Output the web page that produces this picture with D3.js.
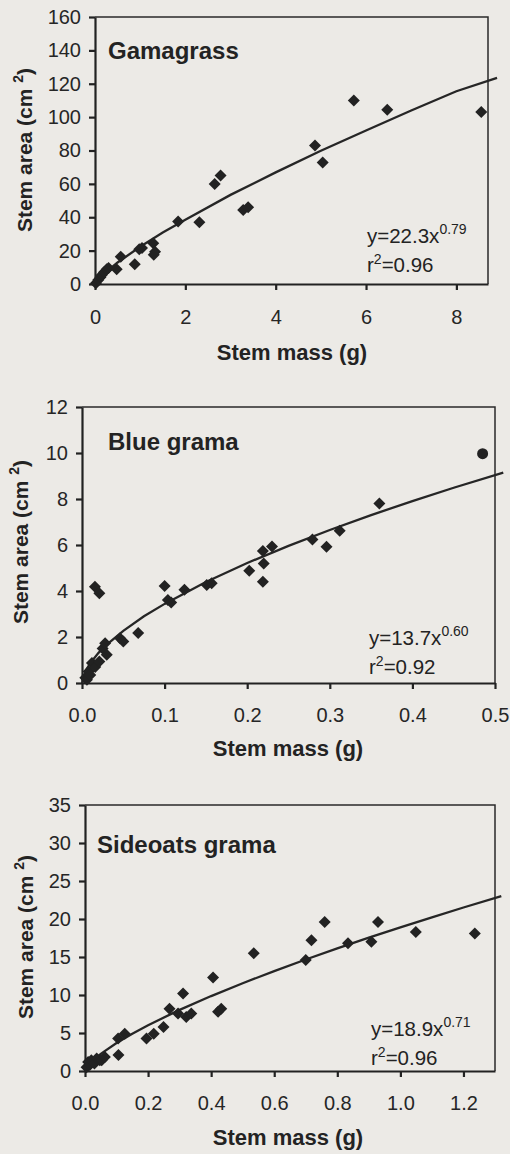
<!DOCTYPE html>
<html>
<head>
<meta charset="utf-8">
<script src="https://cdnjs.cloudflare.com/ajax/libs/d3/7.8.5/d3.min.js"></script>
<style>
body { margin: 0; background: #eceae6; }
svg { display: block; }
text { font-family: "Liberation Sans", Arial, sans-serif; fill: #232323; }
.frame { stroke: #2a2a2a; stroke-width: 1.5; fill: none; }
.fit { stroke: #262626; stroke-width: 2.3; fill: none; }
.pt { fill: #222; }
.axis path, .axis line { stroke: #222; stroke-width: 2.2; }
.axis text { font-size: 20px; fill: #262626; }
</style>
</head>
<body>
<div id="canvas-container"></div>
<script>
// Gamagrass (stem mass g, stem area cm2)
var gamaMass = [0.02, 0.07, 0.12, 0.15, 0.2, 0.26, 0.3, 0.48, 0.57, 0.88, 0.98, 1.04, 1.29, 1.33, 1.3,
    1.84, 2.31, 2.65, 2.78, 3.28, 3.39, 4.87, 5.04, 5.73, 6.47, 8.55];
var gamaArea = [0.5, 2.4, 4, 5.4, 7, 8.8, 9.6, 8.8, 16.4, 11.8, 20.8, 21.6, 24.4, 19.4, 17.5,
    37.4, 37, 60, 65, 44.4, 46, 83, 72.8, 110, 104.4, 103];
var gamaFitMass = [0, 0.1, 0.25, 0.5, 1, 1.5, 2, 3, 4, 5, 6, 7, 8, 8.9];
var gamaFitArea = [0, 3.6, 7.3, 12.9, 22.3, 30.8, 38.5, 53.4, 66.9, 79.8, 92, 104, 115.5, 123.5];
var gamaXTicks = [0, 2, 4, 6, 8];
var gamaYTicks = [0, 20, 40, 60, 80, 100, 120, 140, 160];

// Blue grama
var blueMass = [0.004, 0.006, 0.008, 0.01, 0.012, 0.016, 0.021, 0.0157, 0.021, 0.025, 0.028, 0.03,
    0.046, 0.05, 0.068, 0.1, 0.104, 0.108, 0.124, 0.151, 0.157, 0.2025, 0.219, 0.22, 0.219, 0.23,
    0.279, 0.296, 0.312, 0.36];
var blueArea = [0.23, 0.14, 0.5, 0.35, 0.87, 0.7, 0.94, 4.19, 3.9, 1.5, 1.73, 1.23,
    1.95, 1.8, 2.17, 4.22, 3.61, 3.5, 4.05, 4.26, 4.34, 4.88, 5.74, 5.2, 4.4, 5.93,
    6.24, 5.92, 6.62, 7.8];
var blueOutMass = [0.485];
var blueOutArea = [9.97];
var blueFitMass = [0, 0.005, 0.01, 0.02, 0.03, 0.05, 0.075, 0.1, 0.15, 0.2, 0.25, 0.3, 0.35, 0.4, 0.45, 0.51];
var blueFitArea = [0, 0.57, 0.86, 1.31, 1.67, 2.27, 2.9, 3.44, 4.39, 5.22, 5.96, 6.65, 7.3, 7.91, 8.49, 9.15];
var blueXTicks = [0, 0.1, 0.2, 0.3, 0.4, 0.5];
var blueYTicks = [0, 2, 4, 6, 8, 10, 12];

// Sideoats grama
var sideMass = [0.005, 0.01, 0.015, 0.02, 0.03, 0.037, 0.047, 0.053, 0.063, 0.106, 0.105, 0.126,
    0.195, 0.218, 0.249, 0.268, 0.295, 0.311, 0.321, 0.337, 0.406, 0.422, 0.432, 0.535,
    0.7, 0.718, 0.76, 0.834, 0.908, 0.929, 1.049, 1.236];
var sideArea = [0.5, 1.2, 0.8, 1.4, 1.0, 1.63, 1.4, 1.4, 1.85, 2.1, 4.26, 4.9,
    4.26, 4.9, 5.8, 8.2, 7.55, 10.2, 7.1, 7.55, 12.3, 7.8, 8.2, 15.5,
    14.6, 17.2, 19.6, 16.8, 17.0, 19.6, 18.3, 18.1];
var sideFitMass = [0, 0.01, 0.03, 0.05, 0.1, 0.15, 0.2, 0.3, 0.4, 0.5, 0.6, 0.7, 0.8, 0.9, 1.0, 1.1, 1.2, 1.32];
var sideFitArea = [0, 0.72, 1.57, 2.25, 3.69, 4.91, 6.03, 8.04, 9.86, 11.55, 13.15, 14.67, 16.13, 17.54, 18.9, 20.22, 21.51, 23];
var sideXTicks = [0, 0.2, 0.4, 0.6, 0.8, 1.0, 1.2];
var sideYTicks = [0, 5, 10, 15, 20, 25, 30, 35];

var svg = d3.select("#canvas-container").append("svg")
    .attr("width", 510)
    .attr("height", 1154);

function diamond(s) {
    return "M0," + (-s) + "L" + s + ",0L0," + s + "L" + (-s) + ",0Z";
}

function drawPanel(p) {
    var x = d3.scaleLinear().domain(p.xdom).range([p.left, p.right]);
    var y = d3.scaleLinear().domain(p.ydom).range([p.bottom, p.top]);

    // box (top and right)
    svg.append("path")
        .attr("class", "frame")
        .attr("d", "M" + p.left + "," + p.top + "H" + p.right + "V" + p.bottom);

    svg.append("g")
        .attr("class", "axis")
        .attr("transform", "translate(0," + p.bottom + ")")
        .call(d3.axisBottom(x).tickValues(p.xticks).tickSize(6).tickSizeOuter(0)
            .tickPadding(p.xpad).tickFormat(p.xfmt));

    svg.append("g")
        .attr("class", "axis")
        .attr("transform", "translate(" + p.left + ",0)")
        .call(d3.axisLeft(y).tickValues(p.yticks).tickSize(6).tickSizeOuter(0)
            .tickPadding(8).tickFormat(d3.format("d")));

    var line = d3.line()
        .x(function(d) { return x(d[0]); })
        .y(function(d) { return y(d[1]); });
    svg.append("path")
        .attr("class", "fit")
        .attr("d", line(d3.zip(p.fitX, p.fitY)));

    var pts = d3.zip(p.mx, p.my);
    svg.selectAll(null).data(pts).enter().append("path")
        .attr("class", "pt")
        .attr("d", diamond(6))
        .attr("transform", function(d) { return "translate(" + x(d[0]) + "," + y(d[1]) + ")"; });

    if (p.ox) {
        svg.selectAll(null).data(d3.zip(p.ox, p.oy)).enter().append("circle")
            .attr("class", "pt")
            .attr("r", 5.5)
            .attr("cx", function(d) { return x(d[0]); })
            .attr("cy", function(d) { return y(d[1]); });
    }

    svg.append("text")
        .attr("x", p.titleX).attr("y", p.titleY)
        .attr("font-size", 24).attr("font-weight", "bold")
        .text(p.title);

    var eq = svg.append("text")
        .attr("x", p.eqX).attr("y", p.eqY)
        .attr("font-size", 20.5);
    eq.append("tspan").text(p.eq[0]);
    eq.append("tspan").attr("font-size", 14).attr("dy", -9).text(p.eq[1]);

    var r2 = svg.append("text")
        .attr("x", p.eqX).attr("y", p.eqY + 29)
        .attr("font-size", 20.5);
    r2.append("tspan").text("r");
    r2.append("tspan").attr("font-size", 14).attr("dy", -8).text("2");
    r2.append("tspan").attr("dy", 8).text("=" + p.eq[2]);

    svg.append("text")
        .attr("x", p.xlabX).attr("y", p.xlabY)
        .attr("text-anchor", "middle")
        .attr("font-size", 22).attr("font-weight", "bold")
        .text("Stem mass (g)");

    var yl = svg.append("text")
        .attr("transform", "translate(" + p.ylabX + "," + p.ylabY + ") rotate(-90)")
        .attr("text-anchor", "middle")
        .attr("font-size", 21).attr("font-weight", "bold");
    yl.append("tspan").text("Stem area (cm ");
    yl.append("tspan").attr("font-size", 14).attr("dy", -9).text("2");
    yl.append("tspan").attr("dy", 9).text(")");
}

drawPanel({
    xdom: [0, 8.7], ydom: [0, 160], left: 95, right: 488, top: 17, bottom: 284,
    xticks: gamaXTicks, yticks: gamaYTicks, xfmt: d3.format("d"), xpad: 20,
    mx: gamaMass, my: gamaArea, fitX: gamaFitMass, fitY: gamaFitArea,
    title: "Gamagrass", titleX: 108, titleY: 59,
    eq: ["y=22.3x", "0.79", "0.96"], eqX: 367, eqY: 243,
    xlabX: 292, xlabY: 360, ylabX: 32, ylabY: 150
});

drawPanel({
    xdom: [0, 0.5], ydom: [0, 12], left: 82, right: 495, top: 407, bottom: 683,
    xticks: blueXTicks, yticks: blueYTicks, xfmt: d3.format(".1f"), xpad: 19,
    mx: blueMass, my: blueArea, ox: blueOutMass, oy: blueOutArea,
    fitX: blueFitMass, fitY: blueFitArea,
    title: "Blue grama", titleX: 108, titleY: 450,
    eq: ["y=13.7x", "0.60", "0.92"], eqX: 369, eqY: 645,
    xlabX: 288, xlabY: 756, ylabX: 28, ylabY: 542
});

drawPanel({
    xdom: [0, 1.3], ydom: [0, 35], left: 85, right: 495, top: 805, bottom: 1071,
    xticks: sideXTicks, yticks: sideYTicks, xfmt: d3.format(".1f"), xpad: 19,
    mx: sideMass, my: sideArea, fitX: sideFitMass, fitY: sideFitArea,
    title: "Sideoats grama", titleX: 97, titleY: 853,
    eq: ["y=18.9x", "0.71", "0.96"], eqX: 371, eqY: 1036,
    xlabX: 288, xlabY: 1145, ylabX: 33, ylabY: 937
});
</script>
</body>
</html>
